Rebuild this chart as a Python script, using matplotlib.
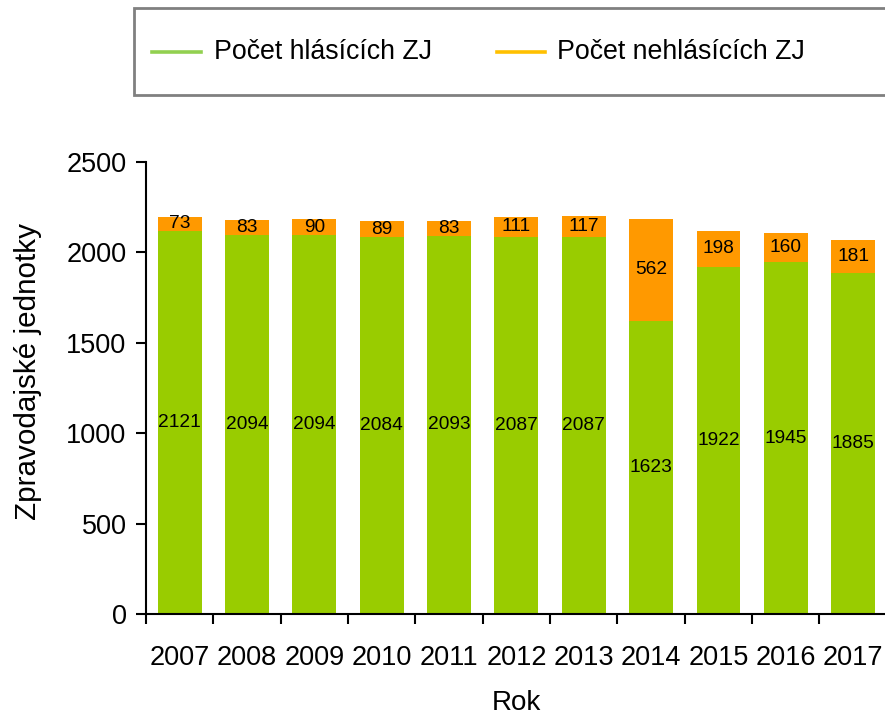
import matplotlib
matplotlib.use("Agg")
import matplotlib.pyplot as plt
import matplotlib.patches as mpatches
from matplotlib.lines import Line2D
import numpy as np

plt.rcParams['font.family'] = ['Liberation Sans', 'DejaVu Sans']

# Data
years = ['2007', '2008', '2009', '2010', '2011', '2012', '2013', '2014', '2015', '2016', '2017']
reporting = [2121, 2094, 2094, 2084, 2093, 2087, 2087, 1623, 1922, 1945, 1885]
not_reporting = [73, 83, 90, 89, 83, 111, 117, 562, 198, 160, 181]
legend_labels = ['Počet hlásících ZJ', 'Počet nehlásících ZJ']

GREEN = '#99CC00'
ORANGE = '#FF9900'

W, H = 885, 716
fig = plt.figure(figsize=(W / 100, H / 100), dpi=100)
ax = fig.add_axes([146 / W, 1 - 614 / H, (W - 146) / W + 0.002, (614 - 162) / H])

x = np.arange(len(years))
bw = 0.65
ax.bar(x, reporting, bw, color=GREEN, zorder=2)
ax.bar(x, not_reporting, bw, bottom=reporting, color=ORANGE, zorder=2)

for xi, r, n in zip(x, reporting, not_reporting):
    ax.text(xi, r / 2, str(r), ha='center', va='center', fontsize=13.8, zorder=3)
    ax.text(xi, r + n / 2, str(n), ha='center', va='center', fontsize=13.8, zorder=3)

ax.set_xlim(-0.5, len(years) - 0.5)
ax.set_ylim(0, 2500)
ax.set_yticks([0, 500, 1000, 1500, 2000, 2500])
# category boundaries carry the ticks, labels sit in the middle
ax.set_xticks(np.arange(len(years)) - 0.5)
ax.set_xticklabels([])
ax.set_xticks(x, minor=True)
ax.set_xticklabels(years, minor=True)
ax.tick_params(axis='x', which='minor', length=0, pad=22, labelsize=19.5)
ax.tick_params(axis='x', which='major', direction='out', length=7, width=1.5)
ax.tick_params(axis='y', direction='out', length=7, width=1.5, labelsize=19.5, pad=7)

for s in ['top', 'right']:
    ax.spines[s].set_visible(False)
for s in ['left', 'bottom']:
    ax.spines[s].set_linewidth(1.5)

fig.text(28 / W, 1 - 371 / H, 'Zpravodajské jednotky', fontsize=21.3,
         rotation=90, ha='center', va='center')
ax.set_xlabel('Rok', fontsize=20, labelpad=14)

# Legend box across the top
rect = mpatches.Rectangle((134 / W, 1 - 95 / H), (W - 134) / W + 0.01, 87 / H,
                          transform=fig.transFigure, facecolor='white',
                          edgecolor='#808080', linewidth=2, clip_on=False)
fig.patches.append(rect)
ly = 1 - 52 / H
fig.lines.append(Line2D([152 / W, 201 / W], [ly, ly], transform=fig.transFigure,
                        color='#92D050', linewidth=2.6))
fig.text(214 / W, ly, legend_labels[0], fontsize=19.3, va='center', ha='left')
fig.lines.append(Line2D([497 / W, 545 / W], [ly, ly], transform=fig.transFigure,
                        color='#FFC000', linewidth=2.6))
fig.text(557 / W, ly, legend_labels[1], fontsize=19.3, va='center', ha='left')

fig.savefig('out.png', dpi=100)
